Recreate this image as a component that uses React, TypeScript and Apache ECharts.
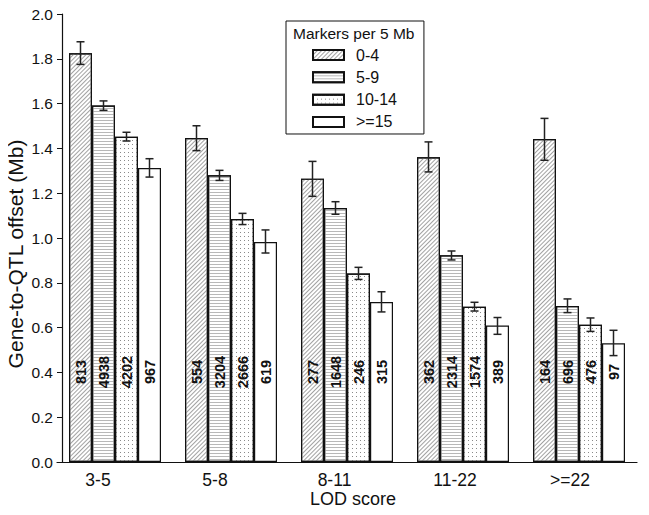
import React, { useEffect, useRef } from "react";
import * as echarts from "echarts";

const categories = ["3-5", "5-8", "8-11", "11-22", ">=22"];
const groupNames = ["0-4", "5-9", "10-14", ">=15"];

const mean04 = [1.825, 1.446, 1.265, 1.36, 1.442];
const mean59 = [1.591, 1.28, 1.134, 0.923, 0.696];
const mean1014 = [1.452, 1.085, 0.841, 0.693, 0.613];
const mean15 = [1.3125, 0.982, 0.714, 0.609, 0.53];

const low04 = [1.775, 1.39, 1.186, 1.295, 1.347];
const high04 = [1.876, 1.501, 1.342, 1.429, 1.534];
const low59 = [1.57, 1.257, 1.106, 0.902, 0.667];
const high59 = [1.612, 1.302, 1.162, 0.942, 0.728];
const low1014 = [1.433, 1.06, 0.815, 0.674, 0.583];
const high1014 = [1.472, 1.11, 0.869, 0.713, 0.643];
const low15 = [1.272, 0.933, 0.67, 0.57, 0.475];
const high15 = [1.354, 1.036, 0.76, 0.645, 0.588];

const count04 = [813, 554, 277, 362, 164];
const count59 = [4938, 3204, 1648, 2314, 696];
const count1014 = [4202, 2666, 246, 1574, 476];
const count15 = [967, 619, 315, 389, 97];

const yTicks = [0, 0.2, 0.4, 0.6, 0.8, 1.0, 1.2, 1.4, 1.6, 1.8, 2.0];

const FONT = '"Liberation Sans", Arial, Helvetica, sans-serif';
const BAR_W = 23;
const labelShift = [34, 32, 25, 16, 18];

const decals: any[] = [
  {
    symbol: "rect",
    symbolSize: 1,
    dashArrayX: [1, 0],
    dashArrayY: [1, 2],
    rotation: -Math.PI / 4,
    color: "#a2a2a2",
    backgroundColor: "#ffffff",
  },
  {
    symbol: "rect",
    symbolSize: 1,
    dashArrayX: [1, 0],
    dashArrayY: [1, 2],
    rotation: 0,
    color: "#b8b8b8",
    backgroundColor: "#ffffff",
  },
  {
    symbol: "rect",
    symbolSize: 1,
    dashArrayX: [1, 3],
    dashArrayY: [1, 3],
    rotation: 0,
    color: "#8a8a8a",
    backgroundColor: "#ffffff",
  },
  null,
];

export default function App() {
  const ref = useRef<HTMLDivElement>(null);

  useEffect(() => {
    if (!ref.current) return;
    const chart = echarts.init(ref.current, undefined, { renderer: "svg" });
    const means = [mean04, mean59, mean1014, mean15];
    const lows = [low04, low59, low1014, low15];
    const highs = [high04, high59, high1014, high15];
    const counts = [count04, count59, count1014, count15];

    const barSeries = groupNames.map((name, s) => ({
      type: "bar",
      name,
      barWidth: BAR_W,
      barGap: "0%",
      data: means[s].map((v, i) => ({ value: v, count: counts[s][i] })),
      itemStyle: {
        color: "#ffffff",
        borderColor: "#111111",
        borderWidth: 1.2,
        ...(decals[s] ? { decal: decals[s] } : {}),
      },
      label: {
        show: true,
        position: "insideBottom",
        distance: 90,
        rotate: 90,
        align: "center",
        verticalAlign: "middle",
        color: "#111111",
        fontFamily: FONT,
        fontSize: 14.5,
        fontWeight: "bold",
        formatter: (p: any) => String(p.data.count),
      },
      emphasis: { disabled: true },
      z: 2,
    }));

    const errData: number[][] = [];
    for (let s = 0; s < 4; s++) {
      for (let i = 0; i < categories.length; i++) {
        errData.push([i, s, lows[s][i], highs[s][i]]);
      }
    }

    const errSeries = {
      type: "custom",
      name: "err",
      data: errData,
      encode: { x: 0, y: [2, 3] },
      z: 5,
      renderItem: (params: any, api: any) => {
        const c = api.value(0);
        const s = api.value(1);
        const lo = api.coord([c, api.value(2)]);
        const hi = api.coord([c, api.value(3)]);
        const x = lo[0] + (s - 1.5) * BAR_W;
        const cap = 4;
        const style = { stroke: "#222222", lineWidth: 1.5 };
        return {
          type: "group",
          children: [
            { type: "line", shape: { x1: x, y1: hi[1], x2: x, y2: lo[1] }, style },
            { type: "line", shape: { x1: x - cap, y1: hi[1], x2: x + cap, y2: hi[1] }, style },
            { type: "line", shape: { x1: x - cap, y1: lo[1], x2: x + cap, y2: lo[1] }, style },
          ],
        };
      },
    };

    const rich: any = {};
    labelShift.forEach((p, i) => {
      rich["l" + i] = {
        padding: [0, p, 0, 0],
        fontSize: 17.5,
        fontFamily: FONT,
        color: "#111111",
      };
    });

    chart.setOption({
      animation: false,
      backgroundColor: "#ffffff",
      title: {
        text: "Markers per 5 Mb",
        left: 293,
        top: 25,
        padding: 0,
        textStyle: {
          fontFamily: FONT,
          fontSize: 15.5,
          fontWeight: "normal",
          color: "#111111",
        },
        z: 10,
      },
      legend: {
        data: groupNames,
        orient: "vertical",
        left: 286,
        top: 21,
        padding: [26, 27, 4, 26],
        itemGap: 6.33,
        itemWidth: 31,
        itemHeight: 10,
        icon: "rect",
        borderColor: "#111111",
        borderWidth: 1,
        backgroundColor: "#ffffff",
        selectedMode: false,
        textStyle: {
          fontFamily: FONT,
          fontSize: 16,
          lineHeight: 16,
          color: "#111111",
          padding: [0, 0, 0, 7],
        },
      },
      grid: {
        left: 57,
        width: 580,
        top: 14,
        bottom: 53,
        containLabel: false,
        outerBoundsMode: "none",
      },
      xAxis: {
        type: "category",
        data: categories,
        name: "LOD score",
        nameLocation: "middle",
        nameGap: 28,
        nameMoveOverlap: false,
        nameTextStyle: {
          fontFamily: FONT,
          fontSize: 18,
          color: "#111111",
          padding: [0, 0, 0, 12],
        },
        axisLine: { lineStyle: { color: "#111111", width: 1.2 } },
        axisTick: { show: false },
        axisLabel: {
          margin: 9,
          formatter: (v: string, i: number) => `{l${i}|${v}}`,
          rich,
        },
      },
      yAxis: {
        type: "value",
        min: yTicks[0],
        max: yTicks[yTicks.length - 1],
        interval: 0.2,
        offset: -5,
        name: "Gene-to-QTL offset (Mb)",
        nameLocation: "middle",
        nameGap: 36,
        nameMoveOverlap: false,
        nameTextStyle: {
          fontFamily: FONT,
          fontSize: 21,
          color: "#111111",
          padding: [0, 32, 0, 0],
        },
        axisLine: { show: true, lineStyle: { color: "#111111", width: 1.2 } },
        axisTick: { show: true, length: 5, lineStyle: { color: "#111111" } },
        splitLine: { show: false },
        axisLabel: {
          margin: 9,
          fontFamily: FONT,
          fontSize: 15.5,
          color: "#111111",
          formatter: (v: number) => v.toFixed(1),
        },
      },
      series: [...barSeries, errSeries],
    });

    return () => chart.dispose();
  }, []);

  return <div ref={ref} style={{ width: 649, height: 515, margin: -8 }} />;
}
